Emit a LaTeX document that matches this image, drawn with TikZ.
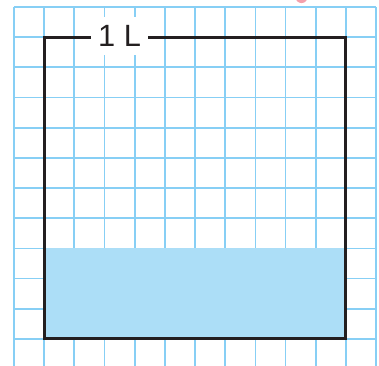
\documentclass[tikz,border=0pt]{standalone}
\usepackage{fontspec}
\setsansfont{Liberation Sans}
\usepackage{xcolor}
\usetikzlibrary{positioning}

\definecolor{gridblue}{RGB}{135,207,245}
\definecolor{waterblue}{RGB}{172,222,247}
\definecolor{inkblack}{RGB}{35,31,32}
\definecolor{pinkdot}{RGB}{244,160,172}

\tikzset{
    gridline/.style={gridblue, line width=1.6pt},
    beaker/.style={inkblack, line width=2.8pt},
    water/.style={fill=waterblue},
    caplabel/.style={fill=white, inner sep=0pt, minimum width=1.9cm, minimum height=1.26cm,
        font=\sffamily\fontsize{29}{29}\selectfont, text=inkblack}
}

\begin{document}
\begin{tikzpicture}
        \useasboundingbox (-0.464,0.133) rectangle (12.098,12.232);

        % Define corners of the container
        \coordinate (BL) at (1,1);
        \coordinate (TR) at (11,11);
        \coordinate (WL) at (11,4);

        % Squared paper
        \foreach \i in {0,...,12} {
            \draw[gridline] (\i,0) -- (\i,12);
            \draw[gridline] (0,\i) -- (12,\i);
        }

        % Water in the container
        \fill[water] (BL) rectangle (WL);

        % Container outline
        \draw[beaker] (BL) rectangle (TR);

        % Capacity label
        \node[caplabel] (cap) at (3.5,11.04) {1 L};

        % Pink mark at the top edge
        \fill[pinkdot] (9.53,12.33) circle (0.2);
    \end{tikzpicture}
\end{document}
